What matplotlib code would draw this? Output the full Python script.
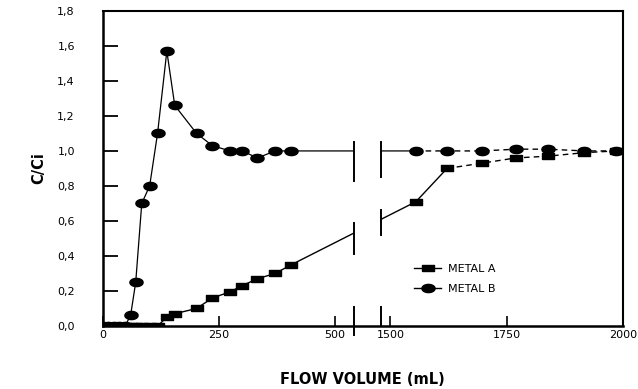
import numpy as np
import matplotlib
matplotlib.use('Agg')
import matplotlib.pyplot as plt
from matplotlib.lines import Line2D
from matplotlib.ticker import FuncFormatter

# flow volume (mL) of each sample, both metals share the same sampling points
volume = [0, 12, 24, 36, 48, 60, 71, 84, 101, 118, 138, 155, 202, 236, 274, 300,
          333, 371, 406, 1555, 1622, 1697, 1770, 1839, 1917, 1985]
metal_a = [0, 0, 0, 0, 0, 0, 0, 0, 0, 0, 0.05, 0.07, 0.10, 0.16, 0.195, 0.23,
           0.27, 0.30, 0.35, 0.71, 0.90, 0.93, 0.96, 0.97, 0.99, 1.0]
metal_b = [0, 0, 0, 0, 0, 0.06, 0.25, 0.70, 0.80, 1.10, 1.57, 1.26, 1.10, 1.03,
           1.0, 1.0, 0.96, 1.0, 1.0, 1.0, 1.0, 1.0, 1.01, 1.01, 1.0, 1.0]

# first index drawn dashed on the right part of the axis
dash_from_a = 20
dash_from_b = 19

x_ticks = [0, 250, 500, 1500, 1750, 2000]
y_ticks = np.arange(0, 1.81, 0.2)

# broken axis: 541 .. 1480 mL is squeezed into a small gap
L_END, R_START, GAP = 541, 1480, 58


def fwd(x):
    x = np.asarray(x, dtype=float)
    mid = L_END + (x - L_END) * GAP / (R_START - L_END)
    return np.where(x <= L_END, x, np.where(x >= R_START, x - R_START + L_END + GAP, mid))


def inv(y):
    y = np.asarray(y, dtype=float)
    mid = L_END + (y - L_END) * (R_START - L_END) / GAP
    return np.where(y <= L_END, y, np.where(y >= L_END + GAP, y - L_END - GAP + R_START, mid))


t = np.linspace(0, 2 * np.pi, 40)
ellipse = list(zip(1.6 * np.cos(t), np.sin(t)))
rect = [(-1, -0.58), (1, -0.58), (1, 0.58), (-1, 0.58), (-1, -0.58)]

fig = plt.figure(figsize=(6.38, 3.89), dpi=100)
ax = fig.add_axes([0.161, 0.162, 0.815, 0.81])
ax.set_xscale('function', functions=(fwd, inv))

# lines
ax.plot(volume[:dash_from_b + 1], metal_b[:dash_from_b + 1], color='black', lw=0.9)
ax.plot(volume[dash_from_b:], metal_b[dash_from_b:], color='black', lw=1.0, ls=(0, (4, 3)))
ax.plot(volume[:dash_from_a + 1], metal_a[:dash_from_a + 1], color='black', lw=1.0)
ax.plot(volume[dash_from_a:], metal_a[dash_from_a:], color='black', lw=1.0, ls=(0, (4, 3)))

# markers
ax.plot(volume, metal_a, ls='none', marker=rect, ms=8, color='black', zorder=3)
ax.plot(volume, metal_b, ls='none', marker=ellipse, ms=9.5, color='black', zorder=4)

# blank the gap and draw the break bars
ax.axvspan(L_END, R_START, color='white', zorder=2.2, lw=0)
breaks = [(L_END, 0.83, 1.05), (R_START, 0.85, 1.05),
          (L_END, 0.41, 0.59), (R_START, 0.52, 0.66),
          (L_END, -0.05, 0.11), (R_START, 0.0, 0.11)]
for bx, y0, y1 in breaks:
    ax.plot([bx, bx], [y0, y1], color='black', lw=1.4, zorder=5, clip_on=False)

ax.set_xlim(0, 2000)
ax.set_ylim(0, 1.8)
ax.set_xticks(x_ticks)
ax.set_yticks(y_ticks)
ax.yaxis.set_major_formatter(FuncFormatter(lambda v, p: f"{v:.1f}".replace('.', ',')))
ax.xaxis.set_major_formatter(FuncFormatter(lambda v, p: f"{int(v)}"))
ax.tick_params(axis='y', direction='in', length=11, width=1.3, pad=20, labelsize=8)
ax.tick_params(axis='x', direction='in', length=7, width=1.2, pad=3, labelsize=8)
ax.xaxis.set_minor_locator(matplotlib.ticker.NullLocator())

for side in ['left', 'bottom']:
    ax.spines[side].set_linewidth(1.8)
for side in ['top', 'right']:
    ax.spines[side].set_linewidth(1.5)

ax.set_xlabel('FLOW VOLUME (mL)', fontsize=10.5, fontweight='bold', labelpad=23)
ax.set_ylabel('C/Ci', fontsize=10.5, fontweight='bold', labelpad=8)

handles = [
    Line2D([], [], color='black', lw=1.0, marker=rect, ms=8),
    Line2D([], [], color='black', lw=1.0, marker=ellipse, ms=9.5),
]
ax.legend(handles, ['METAL A', 'METAL B'], loc='upper left', bbox_to_anchor=(0.58, 0.23),
          frameon=False, fontsize=8, handlelength=2.4, handletextpad=0.6, labelspacing=0.9)

fig.savefig('out.png', dpi=100)
